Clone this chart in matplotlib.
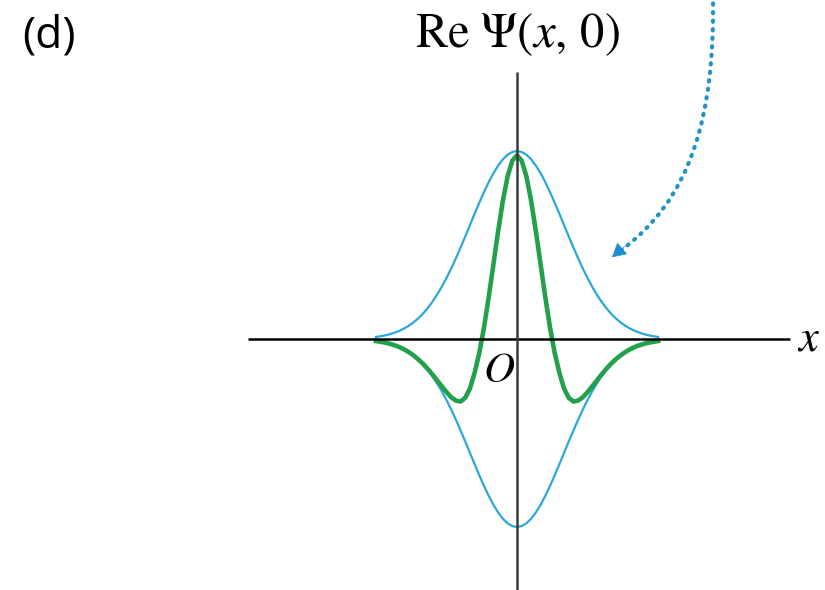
import matplotlib.pyplot as plt
import numpy as np
from matplotlib.path import Path
from matplotlib.patches import PathPatch

plt.rcParams['mathtext.fontset'] = 'stix'

# right half of the wave packet; it is symmetric about x = 0
x_half = [0.0, 0.1, 0.2, 0.3, 0.4, 0.5, 0.6, 0.7, 0.8, 0.9, 1.0,
          1.1, 1.2, 1.3, 1.4, 1.5, 1.6, 1.7, 1.8, 1.9, 2.0,
          2.1, 2.2, 2.3, 2.4, 2.5, 2.6, 2.7, 2.8, 2.9, 3.0]
envelope_half = [4.000, 3.980, 3.921, 3.824, 3.692, 3.530, 3.341, 3.131, 2.904, 2.668, 2.426,
                 2.184, 1.947, 1.718, 1.501, 1.299, 1.112, 0.943, 0.792, 0.658, 0.541,
                 0.441, 0.356, 0.284, 0.225, 0.176, 0.136, 0.104, 0.079, 0.060, 0.044]
re_psi_half = [3.910, 3.795, 3.460, 2.944, 2.304, 1.602, 0.903, 0.259, -0.286, -0.714, -1.050,
               -1.250, -1.330, -1.310, -1.240, -1.130, -1.007, -0.880, -0.754, -0.635, -0.527,
               -0.433, -0.350, -0.280, -0.222, -0.173, -0.134, -0.103, -0.078, -0.059, -0.044]

xh = np.array(x_half)
x = np.concatenate([-xh[:0:-1], xh])
env = np.concatenate([np.array(envelope_half)[:0:-1], envelope_half])
re_psi = np.concatenate([np.array(re_psi_half)[:0:-1], re_psi_half])

# dotted pointer coming down from above the panel
arrow_pts = [(4.17, 7.32), (4.21, 4.66), (3.68, 2.96), (2.02, 1.74)]

fig = plt.figure(figsize=(8.25, 5.9), dpi=100)
ax = fig.add_axes([0, 0, 1, 1])
ax.set_xlim(-11.0, 6.553)
ax.set_ylim(-5.340, 7.213)
ax.axis('off')

blue = '#2aa8dc'
green = '#22a04b'

ax.plot(x, env, color=blue, lw=1.6, zorder=2)
ax.plot(x, -env, color=blue, lw=1.6, zorder=2)
ax.plot(x, re_psi, color=green, lw=3.3, zorder=3, solid_joinstyle='round')

# axes
ax.plot([-5.72, 5.81], [0, 0], color='black', lw=1.8, zorder=4, solid_capstyle='butt')
ax.plot([0, 0], [5.68, -5.6], color='#3a3a3a', lw=1.8, zorder=4, solid_capstyle='butt')

ax.text(0, 6.48, r'$\mathrm{Re}\ \Psi(x,\,0)$', fontsize=35, ha='center', va='center')
ax.text(6.2, 0.02, r'$x$', fontsize=32, ha='center', va='center')
ax.text(-0.38, -0.66, r'$O$', fontsize=31, ha='center', va='center')
ax.text(-9.95, 6.45, '(d)', fontsize=32, family=['Open Sans', 'DejaVu Sans'],
        ha='center', va='center')

# curved dotted arrow
codes = [Path.MOVETO, Path.CURVE4, Path.CURVE4, Path.CURVE4]
body = PathPatch(Path(arrow_pts[:-1] + [(2.18, 1.86)], codes), fill=False,
                 edgecolor='#2293c6', lw=3.0, linestyle=(0, (0.3, 1.75)),
                 capstyle='round', zorder=5)
ax.add_patch(body)
ax.annotate('', xy=arrow_pts[-1], xytext=(2.3, 1.98),
            arrowprops=dict(arrowstyle='-|>,head_length=0.9,head_width=0.5',
                            color='#1e8fcc', lw=0.5, shrinkA=0, shrinkB=0), zorder=6)

fig.savefig('out.png', dpi=100)
